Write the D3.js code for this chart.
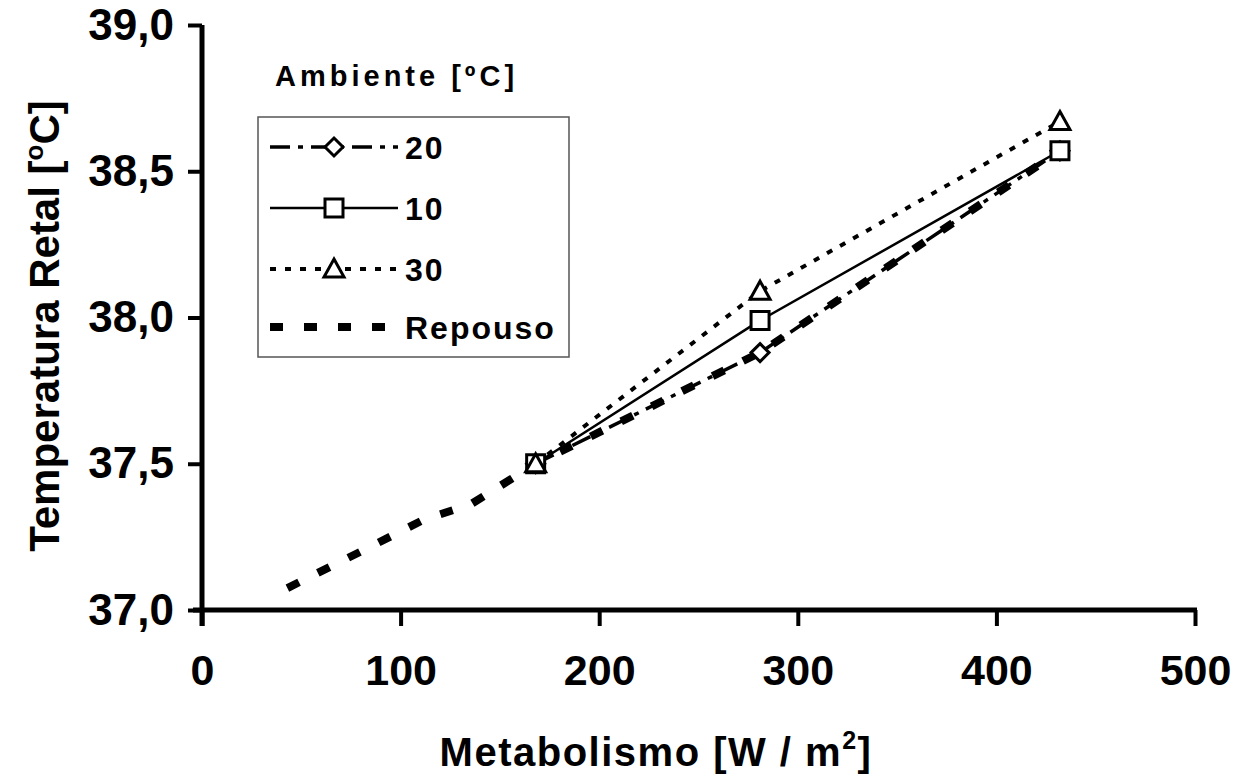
<!DOCTYPE html>
<html>
<head>
<meta charset="utf-8">
<script src="https://cdn.jsdelivr.net/npm/d3@7"></script>
<style>
  body { margin: 0; background: #fff; }
  svg { font-family: "Liberation Sans", Arial, sans-serif; font-weight: bold; }
</style>
</head>
<body>
<svg class="chart"></svg>
<script>
// data
const metab20 = [168, 281, 432];
const temp20 = [37.5, 37.88, 38.57];
const metab10 = [168, 281, 432];
const temp10 = [37.5, 37.99, 38.57];
const metab30 = [168, 281, 432];
const temp30 = [37.5, 38.09, 38.67];
const metabRep = [43, 80, 112, 135, 168, 281, 432];
const tempRep = [37.075, 37.2, 37.31, 37.36, 37.5, 37.88, 38.57];
const xTicks = [0, 100, 200, 300, 400, 500];
const yTicks = [37.0, 37.5, 38.0, 38.5, 39.0];
const legendNames = ['20', '10', '30', 'Repouso'];

const svgWidth = 1233;
const svgHeight = 781;
const padding = {top: 25, left: 202, right: 38, bottom: 171};

const svg = d3.select(".chart")
    .attr('width', svgWidth)
    .attr('height', svgHeight);

const x = d3.scaleLinear()
    .domain([0, 500])
    .range([padding.left, svgWidth - padding.right]);

const y = d3.scaleLinear()
    .domain([37, 39])
    .range([svgHeight - padding.bottom, padding.top]);

const comma = d3.formatLocale({decimal: ",", thousands: ".", grouping: [3], currency: ["", ""]}).format(".1f");

const styles = {
    '20': {dash: '20,8,5,8', width: 3.5},
    '10': {dash: null, width: 2.5},
    '30': {dash: '6,9', width: 4},
    'Repouso': {dash: '13,21', width: 8}
};

const series = [
    {name: 'Repouso', xs: metabRep, ys: tempRep, marker: null},
    {name: '20', xs: metab20, ys: temp20, marker: 'diamond'},
    {name: '10', xs: metab10, ys: temp10, marker: 'square'},
    {name: '30', xs: metab30, ys: temp30, marker: 'triangle'}
];

const line = d3.line()
    .x(d => x(d[0]))
    .y(d => y(d[1]));

// lines
series.forEach(function(s) {
    const pts = s.xs.map((v, i) => [v, s.ys[i]]);
    svg.append('path')
        .attr('d', line(pts))
        .attr('fill', 'none')
        .attr('stroke', '#000')
        .attr('stroke-width', styles[s.name].width)
        .attr('stroke-dasharray', styles[s.name].dash);
});

function markerPath(type) {
    if (type == 'diamond') return 'M0,-9L9,0L0,9L-9,0Z';
    if (type == 'square') return 'M-9,-9H9V9H-9Z';
    if (type == 'triangle') return 'M0,-10L10,8H-10Z';
    return '';
}

// markers
series.filter(s => s.marker).forEach(function(s) {
    svg.append('g').selectAll('path')
        .data(s.xs.map((v, i) => [v, s.ys[i]]))
        .join('path')
        .attr('transform', d => `translate(${x(d[0])},${y(d[1])})`)
        .attr('d', markerPath(s.marker))
        .attr('fill', '#fff')
        .attr('stroke', '#000')
        .attr('stroke-width', 3);
});

// axes
const xAxis = svg.append('g')
    .attr('transform', `translate(0, ${y(37)})`)
    .call(d3.axisBottom(x).tickValues(xTicks).tickSize(16).tickSizeOuter(0).tickPadding(28));
xAxis.select('.domain').attr('stroke-width', 5).attr('d', `M${x(0) - 9},0H${x(500) + 2}`);
xAxis.selectAll('.tick line').attr('stroke-width', 4);
xAxis.selectAll('text')
    .attr('font-size', '43px')
    .attr('font-family', 'Liberation Sans')
    .attr('font-weight', 'bold');

const yAxis = svg.append('g')
    .attr('transform', `translate(${x(0)}, 0)`)
    .call(d3.axisLeft(y).tickValues(yTicks).tickSize(14).tickSizeOuter(0).tickPadding(14).tickFormat(comma));
yAxis.select('.domain').attr('stroke-width', 5).attr('d', `M0,${y(39)}V${y(37) + 16}`);
yAxis.selectAll('.tick line').attr('stroke-width', 4);
yAxis.selectAll('text')
    .attr('font-size', '44px')
    .attr('font-family', 'Liberation Sans')
    .attr('font-weight', 'bold');

// x axis title
const xt = svg.append('text')
    .attr('x', 656)
    .attr('y', 766)
    .attr('text-anchor', 'middle')
    .style('font-size', '40px')
    .style('letter-spacing', '1.5px');
xt.append('tspan').text('Metabolismo [W / m');
xt.append('tspan').attr('dy', -17).style('font-size', '25px').text('2');
xt.append('tspan').attr('dy', 17).text(']');

// y axis title
const yt = svg.append('text')
    .attr('text-anchor', 'middle')
    .attr('transform', `translate(59 ${326}) rotate(-90)`)
    .style('font-size', '42px');
yt.append('tspan').text('Temperatura Retal [');
yt.append('tspan').attr('dy', -16).style('font-size', '26px').text('o');
yt.append('tspan').attr('dy', 16).text('C]');

// legend
svg.append('text')
    .attr('x', 275)
    .attr('y', 86)
    .style('font-size', '29px')
    .style('letter-spacing', '4px')
    .text('Ambiente [ºC]');

const legend = svg.append('g').attr('class', 'legend');
legend.append('rect')
    .attr('x', 258)
    .attr('y', 117)
    .attr('width', 311)
    .attr('height', 240)
    .attr('fill', 'none')
    .attr('stroke', '#555')
    .attr('stroke-width', 1.5);

const rowY = [147, 208, 269, 327];
legendNames.forEach(function(name, i) {
    const s = series.find(d => d.name == name);
    legend.append('line')
        .attr('x1', 270)
        .attr('x2', 398)
        .attr('y1', rowY[i])
        .attr('y2', rowY[i])
        .attr('stroke', '#000')
        .attr('stroke-width', styles[name].width)
        .attr('stroke-dasharray', styles[name].dash);
    if (s.marker) {
        legend.append('path')
            .attr('transform', `translate(334,${rowY[i]})`)
            .attr('d', markerPath(s.marker))
            .attr('fill', '#fff')
            .attr('stroke', '#000')
            .attr('stroke-width', 3);
    }
    legend.append('text')
        .attr('x', 405)
        .attr('y', rowY[i] + 12)
        .style('font-size', '32px')
        .style('letter-spacing', '2px')
        .text(name);
});
</script>
</body>
</html>
